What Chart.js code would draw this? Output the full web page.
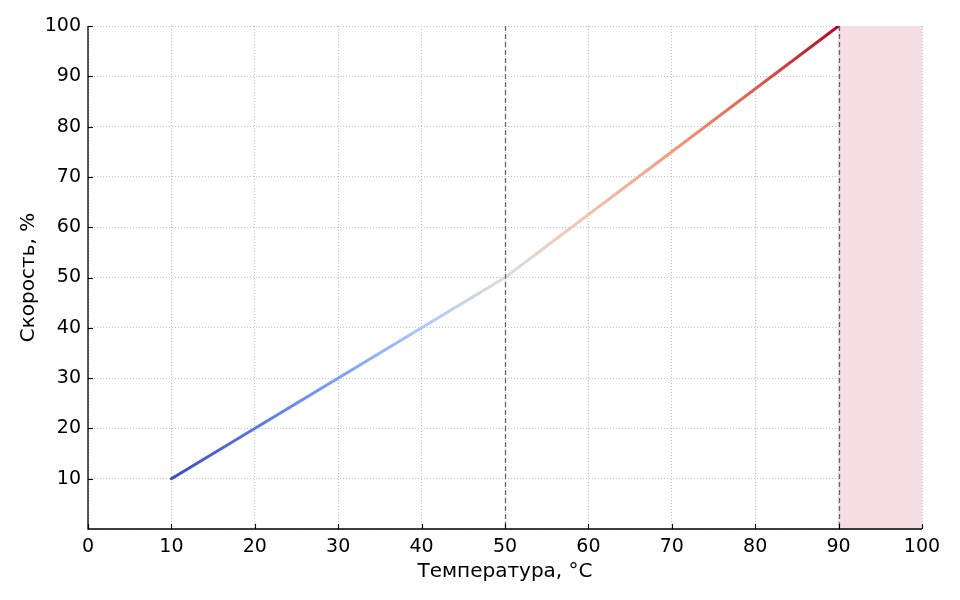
<!DOCTYPE html>
<html><head><meta charset="utf-8">
<script src="https://cdn.jsdelivr.net/npm/chart.js@4/dist/chart.umd.min.js"></script>
<style>html,body{margin:0;padding:0;background:#fff}#w{width:960px;height:600px}</style>
</head><body><div id="w"><canvas id="c"></canvas></div>
<script>
const temps = [10, 50, 90];
const speeds = [10, 50, 100];
const xTicks = [0,10,20,30,40,50,60,70,80,90,100];
const yTicks = [10,20,30,40,50,60,70,80,90,100];
const thresholds = [50, 90];
const zone = [90, 100];
const xTitle = 'Температура, °C';
const yTitle = 'Скорость, %';

const coolwarm = [[0,'#3b4cc0'],[0.125,'#5a78e4'],[0.25,'#7b9ff9'],[0.375,'#aac7fd'],[0.5,'#dddcdc'],[0.625,'#f5c1a9'],[0.75,'#f49a7b'],[0.875,'#de604d'],[1,'#b40426']];

const FONT = 'DejaVu Sans';

const deco = {
  id:'deco',
  beforeDatasetsDraw(chart){
    const {ctx, chartArea:a, scales:{x}} = chart;
    ctx.save();
    ctx.fillStyle = '#f6dde3';
    const x0 = x.getPixelForValue(zone[0]), x1 = x.getPixelForValue(zone[1]);
    ctx.fillRect(x0, a.top, x1-x0, a.bottom-a.top);
    ctx.restore();
  },
  afterDatasetsDraw(chart){
    const {ctx, chartArea:a, scales:{x,y}} = chart;
    ctx.save();
    ctx.strokeStyle = '#666';
    ctx.lineWidth = 1.3;
    ctx.setLineDash([5,3]);
    thresholds.forEach(t=>{
      const px = Math.round(x.getPixelForValue(t))+0.5;
      ctx.beginPath(); ctx.moveTo(px,a.top); ctx.lineTo(px,a.bottom); ctx.stroke();
    });
    ctx.setLineDash([]);
    ctx.strokeStyle = '#000';
    ctx.lineWidth = 1.1;
    xTicks.forEach(t=>{
      const px = Math.round(x.getPixelForValue(t))+0.5;
      ctx.beginPath(); ctx.moveTo(px,a.bottom); ctx.lineTo(px,a.bottom-5); ctx.stroke();
    });
    yTicks.forEach(t=>{
      const py = Math.round(y.getPixelForValue(t))+0.5;
      ctx.beginPath(); ctx.moveTo(a.left,py); ctx.lineTo(a.left+5,py); ctx.stroke();
    });
    // axis spines
    ctx.lineWidth = 1.3;
    ctx.beginPath(); ctx.moveTo(a.left, a.top); ctx.lineTo(a.left, a.bottom); ctx.lineTo(a.right, a.bottom); ctx.stroke();
    ctx.restore();
  }
};

new Chart(document.getElementById('c'), {
  type:'line',
  data:{datasets:[{
    data: temps.map((t,i)=>({x:t,y:speeds[i]})),
    borderWidth:3,
    pointRadius:0,
    tension:0,
    borderCapStyle:'round',
    borderColor(ctx){
      const ch = ctx.chart; const a = ch.chartArea;
      if(!a) return '#888';
      const x = ch.scales.x;
      const g = ch.ctx.createLinearGradient(x.getPixelForValue(temps[0]),0,x.getPixelForValue(temps[temps.length-1]),0);
      coolwarm.forEach(([s,c])=>g.addColorStop(s,c));
      return g;
    }
  }]},
  options:{
    responsive:true, maintainAspectRatio:false, animation:false,
    layout:{padding:{left:0,top:26,right:38,bottom:0}},
    plugins:{legend:{display:false},tooltip:{enabled:false}},
    scales:{
      x:{type:'linear',min:0,max:100,
        afterBuildTicks(s){s.ticks = xTicks.map(v=>({value:v}));},
        afterFit(s){s.height=71;},
        grid:{color:'#b8b8b8',lineWidth:0.9,drawTicks:false},
        border:{display:false,dash:[1,2]},
        ticks:{padding:7,color:'#000',font:{family:FONT,size:19}},
        title:{display:true,text:xTitle,color:'#000',font:{family:FONT,size:20},padding:{top:0,bottom:16}}
      },
      y:{type:'linear',min:0,max:100,
        afterBuildTicks(s){s.ticks = [0].concat(yTicks).map(v=>({value:v}));},
        afterFit(s){s.width=88;},
        grid:{color:'#b8b8b8',lineWidth:0.9,drawTicks:false},
        border:{display:false,dash:[1,2]},
        ticks:{padding:7,color:'#000',font:{family:FONT,size:19},callback:v=>v===0?'':v},
        title:{display:true,text:yTitle,color:'#000',font:{family:FONT,size:20},padding:{top:17,bottom:0}}
      }
    }
  },
  plugins:[deco]
});
</script></body></html>
